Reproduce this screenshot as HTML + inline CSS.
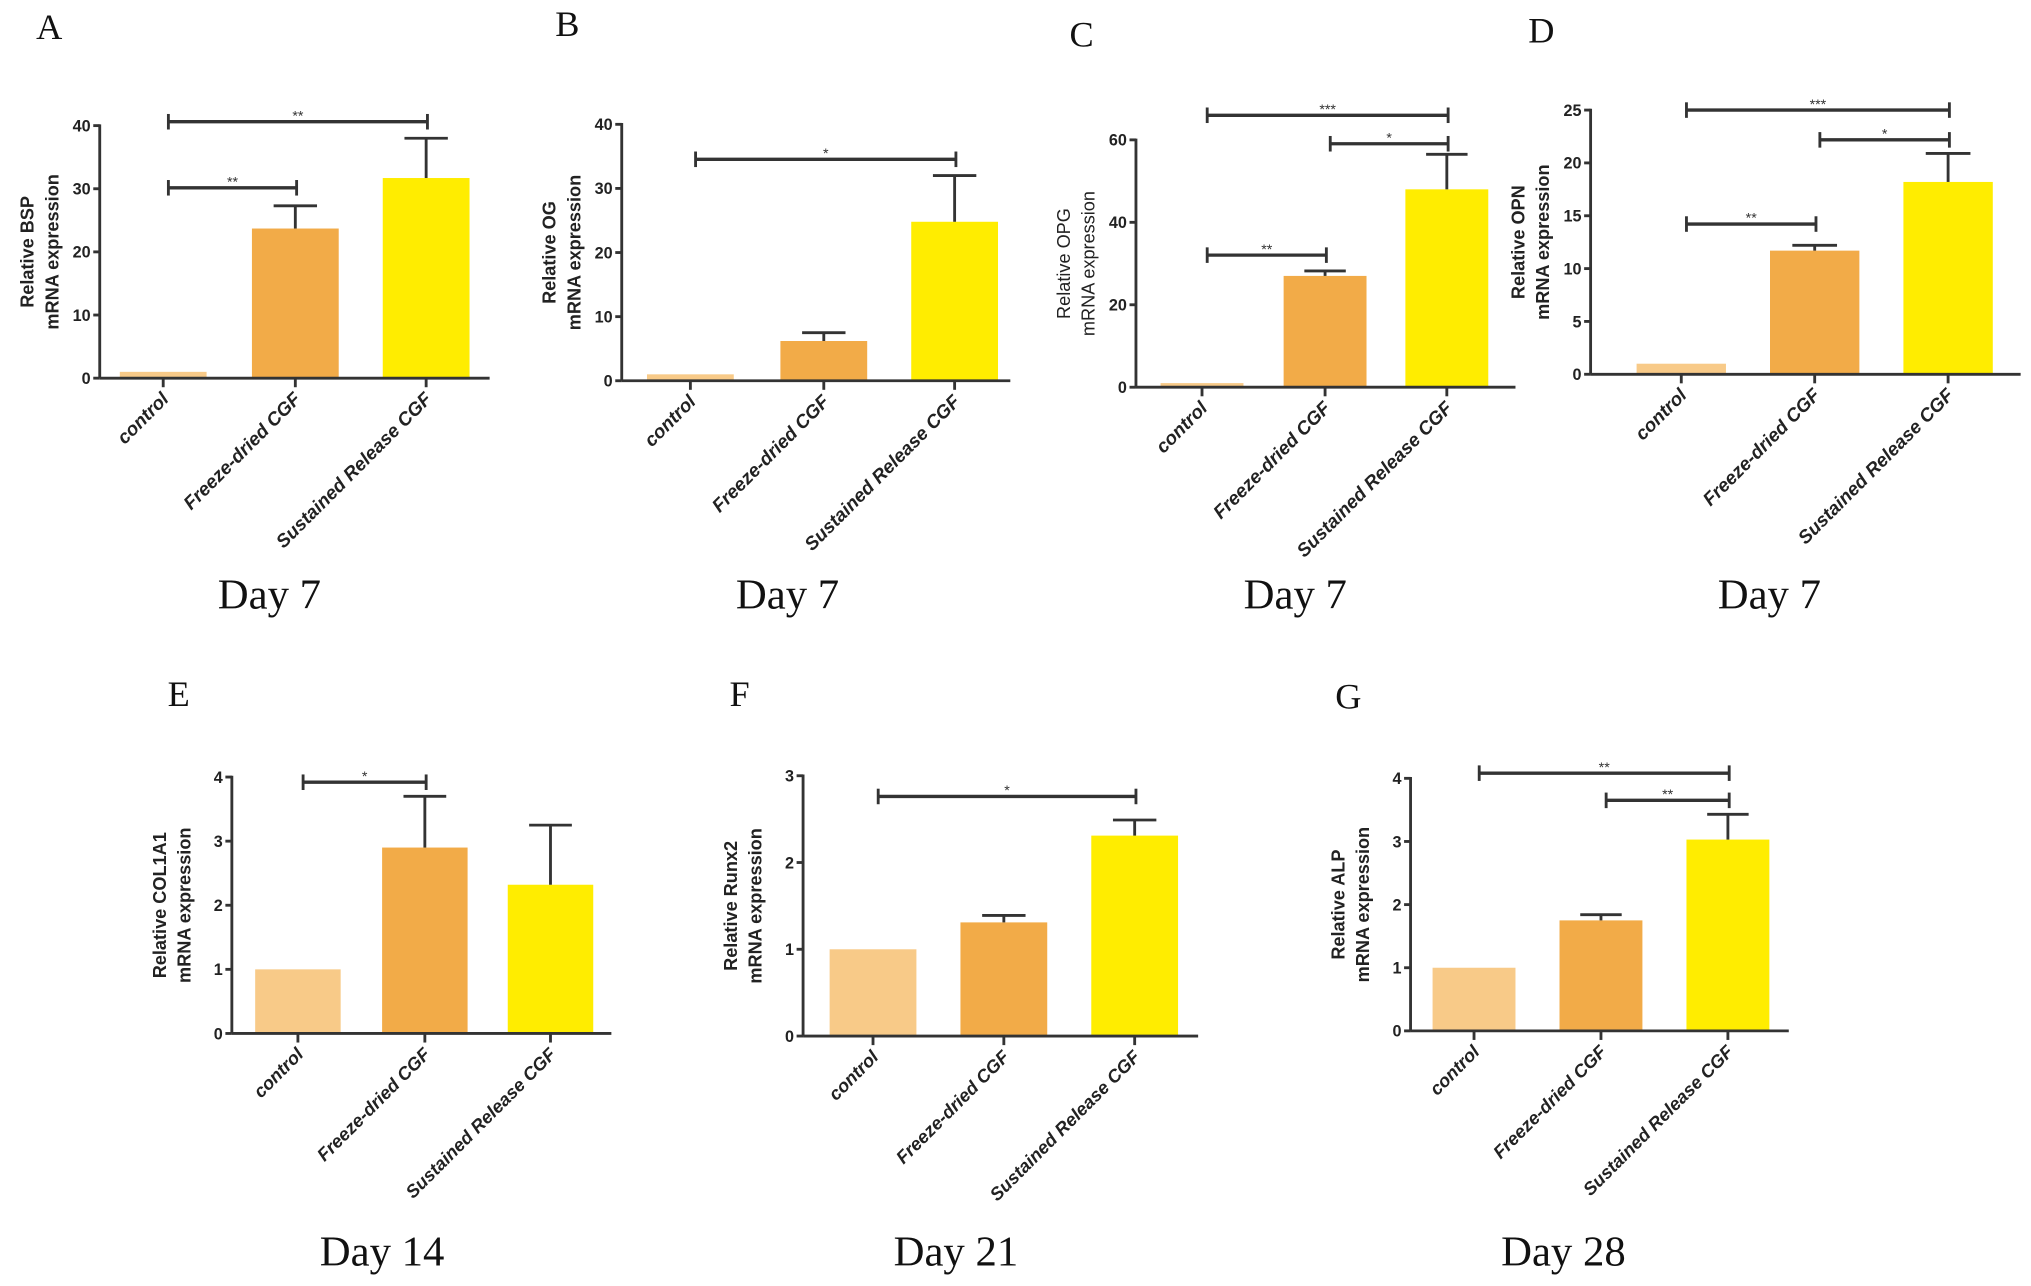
<!DOCTYPE html>
<html><head><meta charset="utf-8">
<style>
html,body{margin:0;padding:0;background:#fff;}
svg{display:block;}
</style></head>
<body>
<svg id="fig" width="2031" height="1286" viewBox="0 0 1568 993" preserveAspectRatio="none" xmlns="http://www.w3.org/2000/svg"></svg>
<script>
const categories = ["control", "Freeze-dried CGF", "Sustained Release CGF"];
const bspMeans = [1, 23.7, 31.7];
const bspErr = [0, 3.6, 6.3];
const ogMeans = [1, 6.2, 24.8];
const ogErr = [0, 1.3, 7.2];
const opgMeans = [1, 27, 48];
const opgErr = [0, 1.2, 8.5];
const opnMeans = [1, 11.7, 18.2];
const opnErr = [0, 0.5, 2.7];
const colMeans = [1, 2.9, 2.32];
const colErr = [0, 0.8, 0.93];
const runxMeans = [1, 1.31, 2.31];
const runxErr = [0, 0.08, 0.18];
const alpMeans = [1, 1.75, 3.03];
const alpErr = [0, 0.09, 0.4];
const bspTicks = [0, 10, 20, 30, 40];
const ogTicks = [0, 10, 20, 30, 40];
const opgTicks = [0, 20, 40, 60];
const opnTicks = [0, 5, 10, 15, 20, 25];
const colTicks = [0, 1, 2, 3, 4];
const runxTicks = [0, 1, 2, 3];
const alpTicks = [0, 1, 2, 3, 4];
const bspSig = [[0, 2, "**"], [0, 1, "**"]];
const ogSig = [[0, 2, "*"]];
const opgSig = [[0, 2, "***"], [1, 2, "*"], [0, 1, "**"]];
const opnSig = [[0, 2, "***"], [1, 2, "*"], [0, 1, "**"]];
const colSig = [[0, 1, "*"]];
const runxSig = [[0, 2, "*"]];
const alpSig = [[0, 2, "**"], [1, 2, "**"]];

const barColors = ["#f8ca88", "#f2ab48", "#ffed00"];
const NS = "http://www.w3.org/2000/svg";
const svg = document.getElementById("fig");

function mk(tag, attrs, parent, text) {
  const e = document.createElementNS(NS, tag);
  for (const k in attrs) e.setAttribute(k, attrs[k]);
  if (text !== undefined) e.textContent = text;
  (parent || svg).appendChild(e);
  return e;
}

const panels = [
  {id:"a", letter:"A", lx:38, ly:30, ax:77, top:97, bot:292, xend:378, centers:[126,228,329], bw:67, means:bspMeans, errs:bspErr, ticks:bspTicks, sig:bspSig, sigY:[94,145], title:"Relative BSP", bold:true, day:"Day 7", dayX:208, dayY:470, fs:14.5},
  {id:"b", letter:"B", lx:438, ly:28, ax:480, top:96, bot:294, xend:780, centers:[533,636,737], bw:67, means:ogMeans, errs:ogErr, ticks:ogTicks, sig:ogSig, sigY:[123], title:"Relative OG", bold:true, day:"Day 7", dayX:608, dayY:470, fs:14.5},
  {id:"c", letter:"C", lx:835, ly:36, ax:877, top:108, bot:299, xend:1170, centers:[928,1023,1117], bw:64, means:opgMeans, errs:opgErr, ticks:opgTicks, sig:opgSig, sigY:[89,111,197], title:"Relative OPG", bold:false, day:"Day 7", dayX:1000, dayY:470, fs:14.5},
  {id:"d", letter:"D", lx:1190, ly:33, ax:1228, top:85, bot:289, xend:1560, centers:[1298,1401,1504], bw:69, means:opnMeans, errs:opnErr, ticks:opnTicks, sig:opnSig, sigY:[85,108,173], title:"Relative OPN", bold:true, day:"Day 7", dayX:1366, dayY:470, fs:14.5},
  {id:"e", letter:"E", lx:138, ly:545, ax:179, top:600, bot:798, xend:472, centers:[230,328,425], bw:66, means:colMeans, errs:colErr, ticks:colTicks, sig:colSig, sigY:[604], title:"Relative COL1A1", bold:true, day:"Day 14", dayX:295, dayY:977, fs:14},
  {id:"f", letter:"F", lx:571, ly:545, ax:620, top:599, bot:800, xend:925, centers:[674,775,876], bw:67, means:runxMeans, errs:runxErr, ticks:runxTicks, sig:runxSig, sigY:[615], title:"Relative Runx2", bold:true, day:"Day 21", dayX:738, dayY:977, fs:14},
  {id:"g", letter:"G", lx:1041, ly:547, ax:1089, top:601, bot:796, xend:1381, centers:[1138,1236,1334], bw:64, means:alpMeans, errs:alpErr, ticks:alpTicks, sig:alpSig, sigY:[597,618], title:"Relative ALP", bold:true, day:"Day 28", dayX:1207, dayY:977, fs:14}
];

panels.forEach(p => {
  const g = mk("g", {});
  
  
  const ymax = p.ticks[p.ticks.length - 1];
  const y = v => p.bot - (v / ymax) * (p.bot - p.top);

  const L = mk("text", {x:p.lx, y:p.ly, "font-family":"Liberation Serif, serif", "font-size":28, fill:"#111", "text-anchor":"middle"}, g, p.letter);
  
  

  p.means.forEach((m, i) => {
    const r = mk("rect", {x:p.centers[i] - p.bw/2, y:y(m), width:p.bw, height:p.bot - y(m), fill:barColors[i]}, g);
    
    
    if (p.errs[i] > 0) {
      const eg = mk("g", {stroke:"#333", "stroke-width":2.2}, g);
      
      
      const yt = y(m + p.errs[i]);
      mk("line", {x1:p.centers[i], x2:p.centers[i], y1:y(m), y2:yt}, eg);
      mk("line", {x1:p.centers[i] - p.bw/4, x2:p.centers[i] + p.bw/4, y1:yt, y2:yt}, eg);
    }
  });

  const axg = mk("g", {stroke:"#333", "stroke-width":2.2}, g);
  
  
  mk("line", {x1:p.ax, x2:p.ax, y1:p.top - 1, y2:p.bot}, axg);
  mk("line", {x1:p.ax, x2:p.xend, y1:p.bot, y2:p.bot}, axg);
  p.ticks.forEach(t => {
    mk("line", {x1:p.ax - 5, x2:p.ax, y1:y(t), y2:y(t)}, axg);
    const tl = mk("text", {x:p.ax - 7, y:y(t) + 4.5, "font-family":"Liberation Sans, sans-serif", "font-size":12.5, "font-weight":"bold", fill:"#222", "text-anchor":"end", stroke:"none"}, g, String(t));
    
    
  });
  p.centers.forEach((c, i) => {
    mk("line", {x1:c, x2:c, y1:p.bot, y2:p.bot + 7}, axg);
    const ct = mk("text", {transform:`translate(${c + 5},${p.bot + 17}) rotate(-45)`, "font-family":"Liberation Sans, sans-serif", "font-size":p.fs, "font-weight":"bold", "font-style":"italic", fill:"#222", "text-anchor":"end"}, g, categories[i]);
    
    
  });

  const cy = (p.top + p.bot) / 2;
  const yt = mk("text", {transform:`translate(${p.ax - 51},${cy}) rotate(-90)`, "font-family":"Liberation Sans, sans-serif", "font-size":14, "font-weight":p.bold ? "bold" : "normal", fill:"#222", "text-anchor":"middle"}, g);
  
  
  mk("tspan", {x:0, y:0}, yt, p.title);
  mk("tspan", {x:0, y:19}, yt, "mRNA expression");

  p.sig.forEach((s, k) => {
    const by = p.sigY[k];
    const x1 = p.centers[s[0]] + 4, x2 = p.centers[s[1]] + 1;
    const sg = mk("g", {}, g);
    
    
    mk("line", {x1:x1, x2:x2, y1:by, y2:by, stroke:"#333", "stroke-width":2.6}, sg);
    mk("line", {x1:x1, x2:x1, y1:by - 6, y2:by + 6, stroke:"#333", "stroke-width":2.2}, sg);
    mk("line", {x1:x2, x2:x2, y1:by - 6, y2:by + 6, stroke:"#333", "stroke-width":2.2}, sg);
    mk("text", {x:(x1 + x2) / 2, y:by - 1, "font-family":"Liberation Sans, sans-serif", "font-size":11, fill:"#333", "text-anchor":"middle"}, sg, s[2]);
  });

  const d = mk("text", {x:p.dayX, y:p.dayY, "font-family":"Liberation Serif, serif", "font-size":33, fill:"#111", "text-anchor":"middle"}, g, p.day);
  
  
});
</script>
</body></html>
